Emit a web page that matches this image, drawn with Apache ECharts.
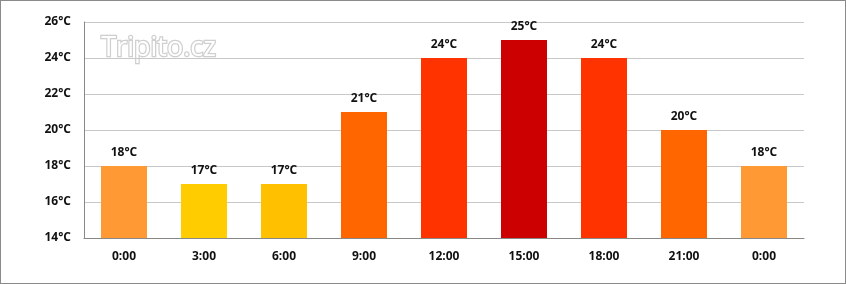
<!DOCTYPE html>
<html><head><meta charset="utf-8">
<script src="https://cdn.jsdelivr.net/npm/echarts@6/dist/echarts.min.js"></script>
<style>html,body{margin:0;padding:0;background:#fff}#c{width:846px;height:284px;box-sizing:border-box;border:1px solid #8a8a8a}</style>
</head><body><div id="c"></div>
<script>
const categories = ['0:00','3:00','6:00','9:00','12:00','15:00','18:00','21:00','0:00'];
const temps = [18,17,17,21,24,25,24,20,18];
const barColors = ['#FF9933','#FFCC00','#FFC000','#FF6600','#FF3300','#CC0000','#FF3300','#FF6600','#FF9933'];
const yMin = 14, yMax = 26, yStep = 2;
const unit = '°C';

const chart = echarts.init(document.getElementById('c'), null, {renderer:'canvas'});
const font = '"Open Sans", "DejaVu Sans", sans-serif';
chart.setOption({
  animation:false,
  grid:{left:83, right:41, top:21, bottom:45},
  xAxis:{type:'category', data:categories,
    axisLine:{lineStyle:{color:'#888', width:1}}, axisTick:{show:false},
    axisLabel:{color:'#111', fontWeight:'bold', fontSize:12, fontFamily:font, margin:13}},
  yAxis:{type:'value', min:yMin, max:yMax, interval:yStep,
    axisLine:{show:true, lineStyle:{color:'#888'}}, axisTick:{show:false},
    splitLine:{lineStyle:{color:'#c8c8c8'}},
    axisLabel:{color:'#111', fontWeight:'bold', fontSize:12, fontFamily:font, margin:13, formatter:v=>v+unit}},
  graphic:[{type:'text', left:99, top:33, style:{text:'Tripito.cz', fontSize:27, fontFamily:'"Open Sans", sans-serif', fill:'#fff', stroke:'#cfcfcf', lineWidth:2.5}, z:0}],
  series:[{type:'bar', barWidth:46,
    data:temps.map((v,i)=>({value:v, itemStyle:{color:barColors[i]}})),
    label:{show:true, position:'top', distance:7, color:'#111', fontWeight:'bold', fontSize:12, fontFamily:font, formatter:p=>p.value+unit}}]
});
</script></body></html>
